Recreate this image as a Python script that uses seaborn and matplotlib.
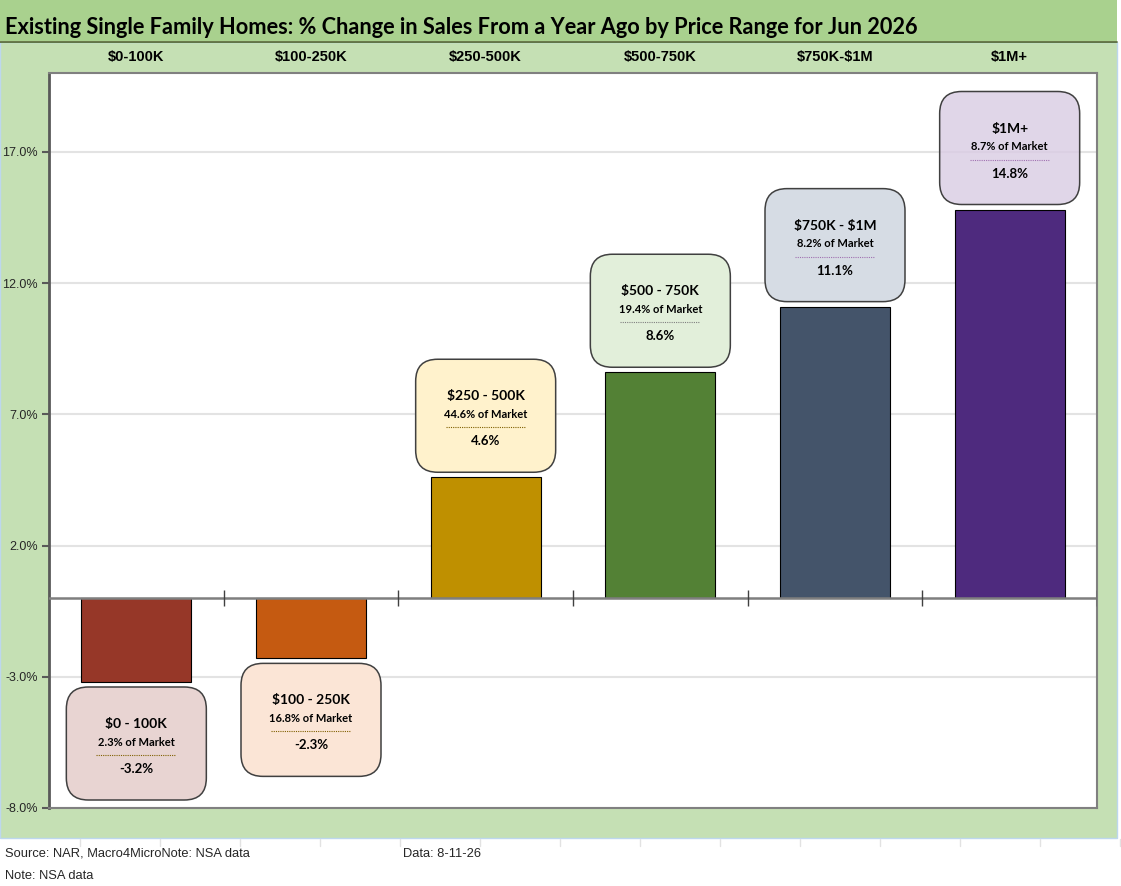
import numpy as np
import pandas as pd
import seaborn as sns
import matplotlib.pyplot as plt
from matplotlib.colors import to_rgba
from matplotlib.patches import Rectangle, FancyBboxPatch

# データ
categories = ["$0-100K", "$100-250K", "$250-500K", "$500-750K", "$750K-$1M", "$1M+"]
pct_change = [-3.2, -2.3, 4.6, 8.6, 11.1, 14.8]
box_titles = ["$0 - 100K", "$100 - 250K", "$250 - 500K", "$500 - 750K", "$750K - $1M", "$1M+"]
market_share = [2.3, 16.8, 44.6, 19.4, 8.2, 8.7]
y_ticks = [-8.0, -3.0, 2.0, 7.0, 12.0, 17.0]

bar_colors = ["#963728", "#C55A11", "#BF9000", "#538135", "#44546A", "#4E2A7E"]
box_colors = ["#E8D4D2", "#FBE5D6", "#FFF2CC", "#E2EFDA", "#D6DCE4", "#D9CCE3"]
line_colors = ["#7F6000", "#7F6000", "#7F6000", "#7F7F7F", "#A070B0", "#A070B0"]


def esc(s):
    # $ を数式扱いさせない
    return s.replace("$", r"\$")


df = pd.DataFrame({"cat": categories, "val": pct_change})

sns.set_style("white")
plt.rcParams["font.family"] = ["Liberation Sans", "DejaVu Sans"]

W, H = 1121, 886
fig = plt.figure(figsize=(W / 100, H / 100), dpi=100)
fig.patch.set_facecolor("white")

# 背景の帯
fig.patches.append(Rectangle((0, 1 - 41 / H), 1117 / W, 41 / H, transform=fig.transFigure,
                             facecolor="#A9D18E", edgecolor="none", zorder=-5))
fig.patches.append(Rectangle((0, 1 - 838 / H), 1117 / W, (838 - 42) / H, transform=fig.transFigure,
                             facecolor="#C5E0B4", edgecolor="#BDD7EE", lw=1, zorder=-5))
fig.add_artist(plt.Line2D([0, 1117 / W], [1 - 41.5 / H] * 2, transform=fig.transFigure,
                          color="#4F6228", lw=1.2, zorder=-4))
# シートの枠線(薄く)
for gx in range(80, W, 80):
    fig.add_artist(plt.Line2D([gx / W] * 2, [1 - 839 / H, 1 - 846 / H], transform=fig.transFigure,
                              color="#E2E2E2", lw=1, zorder=-4))

ax_l, ax_r, ax_t, ax_b = 49, 1097, 73, 808
ax = fig.add_axes([ax_l / W, 1 - ax_b / H, (ax_r - ax_l) / W, (ax_b - ax_t) / H], zorder=1)
ax.set_facecolor("white")

sns.barplot(data=df, x="cat", y="val", hue="cat", palette=bar_colors, legend=False,
            saturation=1, width=0.63, edgecolor="black", linewidth=0.8, ax=ax, zorder=3)

ymin, ymax = -8, 20
ax.set_ylim(ymin, ymax)
ax.set_xlim(-0.5, len(categories) - 0.5)
ax.set_yticks(y_ticks)
ax.set_yticklabels([f"{t:.1f}%" for t in y_ticks], fontsize=9, color="#262626")
ax.yaxis.grid(True, color="#E3E3E3", lw=1.5, zorder=0)
ax.set_axisbelow(True)
ax.tick_params(axis="y", left=True, length=5, width=1.5, color="#595959", pad=3)

ax.set_xticks(range(len(categories)))
ax.set_xticklabels([esc(c) for c in categories], fontsize=10.5, fontweight="bold", color="black")
ax.tick_params(axis="x", top=False, bottom=False, labeltop=True, labelbottom=False, pad=3)
ax.set_xlabel("")
ax.set_ylabel("")

for side in ["top", "right", "bottom"]:
    ax.spines[side].set_color("#808080")
    ax.spines[side].set_linewidth(1.5)
ax.spines["left"].set_color("#595959")
ax.spines["left"].set_linewidth(2)

# ゼロ線と区切り目盛
ax.axhline(0, color="#7F7F7F", lw=1.8, zorder=4)
bounds = np.arange(len(categories)) + 0.5
ax.vlines(bounds, -0.3, 0.3, color="#404040", lw=1, zorder=4)

# 吹き出しボックス
px_x = (ax_r - ax_l) / len(categories)
px_y = (ax_b - ax_t) / (ymax - ymin)
aspect = px_x / px_y
box_w = 140 / px_x
box_h = 113 / px_y
gap = 5 / px_y

for i, v in enumerate(pct_change):
    if v >= 0:
        top = v + gap + box_h
    else:
        top = v - gap
    bx = i - box_w / 2
    alpha = 0.8 if i == 5 else 1.0
    patch = FancyBboxPatch((bx, top - box_h), box_w, box_h,
                           boxstyle=f"round,pad=0,rounding_size={22 / px_x}",
                           mutation_aspect=aspect, facecolor=to_rgba(box_colors[i], alpha),
                           edgecolor="#404040", lw=1.1, zorder=5)
    ax.add_patch(patch)
    ax.text(i, top - 37 / px_y, esc(box_titles[i]), ha="center", va="center",
            fontsize=10, fontweight="bold", family=["Lato", "DejaVu Sans"], color="black", zorder=6)
    ax.text(i, top - 55 / px_y, f"{market_share[i]}% of Market", ha="center", va="center",
            fontsize=8, fontweight="bold", family=["Lato", "DejaVu Sans"], color="black", zorder=6)
    ax.plot([i - 40 / px_x, i + 40 / px_x], [top - 68 / px_y] * 2, ls=(0, (1, 1)),
            color=line_colors[i], lw=0.8, zorder=6)
    ax.text(i, top - 82 / px_y, f"{v}%", ha="center", va="center",
            fontsize=9.5, fontweight="bold", family=["Lato", "DejaVu Sans"], color="black", zorder=6)

# タイトル・注記
fig.text(5 / W, 1 - 27 / H,
         "Existing Single Family Homes: % Change in Sales From a Year Ago by Price Range for Jun 2026",
         ha="left", va="center", fontsize=15.7, fontweight="bold", family=["Lato", "DejaVu Sans"],
         color="black")
fig.text(5 / W, 1 - 854 / H, "Source: NAR, Macro4MicroNote: NSA data", ha="left", va="center", fontsize=9.3)
fig.text(403 / W, 1 - 854 / H, "Data: 8-11-26", ha="left", va="center", fontsize=9.3)
fig.text(5 / W, 1 - 876 / H, "Note: NSA data", ha="left", va="center", fontsize=9.3)

fig.savefig("out.png", dpi=100)
